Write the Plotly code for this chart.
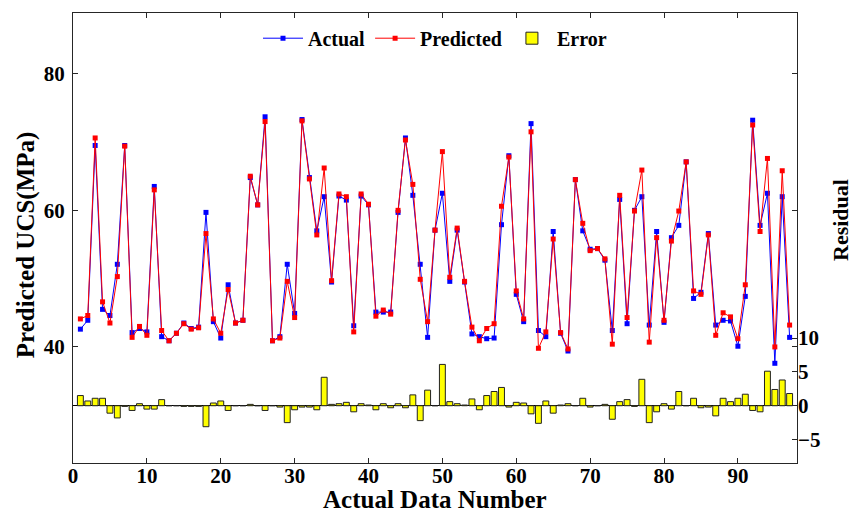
import plotly.graph_objects as go

sample_no = list(range(1, 98))

actual = [42.6, 43.9, 69.5, 45.5, 44.6, 52.1, 69.5, 42.1, 42.7, 42.2,
          63.5, 41.5, 40.9, 42.0, 43.5, 42.7, 42.9, 59.7, 43.7, 41.3,
          49.1, 43.5, 43.9, 64.8, 60.8, 73.7, 40.9, 41.5, 52.1, 44.9,
          73.3, 64.8, 57.0, 62.0, 49.5, 62.1, 61.5, 43.1, 62.1, 60.8,
          45.1, 45.1, 45.1, 59.7, 70.6, 62.2, 52.1, 41.4, 57.1, 62.5,
          49.6, 57.1, 49.5, 41.9, 41.5, 41.2, 41.3, 57.9, 68.0, 47.7,
          43.7, 72.7, 42.4, 41.5, 56.9, 42.0, 39.4, 64.5, 57.0, 54.3,
          54.4, 52.7, 42.4, 61.6, 43.4, 60.0, 62.0, 43.2, 56.9, 43.6,
          56.0, 57.8, 67.1, 47.1, 48.0, 56.6, 43.2, 43.9, 43.8, 40.1,
          47.4, 73.2, 57.8, 62.5, 37.6, 62.0, 41.4]

predicted = [44.1, 44.6, 70.6, 46.6, 43.5, 50.3, 69.4, 41.4, 43.0, 41.7,
             63.0, 42.4, 40.9, 42.0, 43.4, 42.6, 42.8, 56.6, 44.1, 42.0,
             48.4, 43.5, 43.9, 65.0, 60.8, 73.0, 40.9, 41.3, 49.6, 44.3,
             73.1, 64.6, 56.4, 66.2, 49.7, 62.4, 62.0, 42.2, 62.4, 60.9,
             44.5, 45.4, 44.8, 60.0, 70.3, 63.8, 49.9, 43.7, 57.1, 68.6,
             50.2, 57.4, 49.6, 42.9, 40.9, 42.7, 43.4, 60.6, 67.8, 48.2,
             44.1, 71.5, 39.8, 42.2, 55.8, 42.1, 39.7, 64.5, 58.1, 54.1,
             54.4, 52.9, 40.4, 62.2, 44.3, 59.9, 65.9, 40.7, 56.0, 43.9,
             55.5, 59.9, 67.1, 48.2, 47.7, 56.4, 41.7, 45.0, 44.4, 41.2,
             49.1, 72.5, 56.9, 67.6, 40.0, 65.8, 43.2]

error = [round(p - a, 2) for p, a in zip(predicted, actual)]

FONT = "Liberation Serif"
AXC = "#262626"

fig = go.Figure()
fig.add_trace(go.Scatter(
    x=sample_no, y=actual, mode="lines+markers", name="Actual",
    line=dict(color="#0000FF", width=1),
    marker=dict(symbol="square", size=5, color="#0000FF")))
fig.add_trace(go.Scatter(
    x=sample_no, y=predicted, mode="lines+markers", name="Predicted",
    line=dict(color="#FF0000", width=1),
    marker=dict(symbol="square", size=5, color="#FF0000")))
fig.add_trace(go.Bar(
    x=sample_no, y=error, name="Error", yaxis="y2", width=0.8,
    marker=dict(color="#FFFF00", line=dict(color="#222222", width=1))))

fig.update_layout(
    width=853, height=515,
    margin=dict(l=73, r=56, t=13, b=52),
    paper_bgcolor="white", plot_bgcolor="white",
    font=dict(family=FONT, color="black", size=20, weight="bold"),
    showlegend=True,
    legend=dict(orientation="h", x=0.5, xanchor="center", y=0.944, yanchor="middle",
                bgcolor="rgba(0,0,0,0)", itemwidth=40,
                font=dict(family=FONT, size=20, weight="bold")),
    xaxis=dict(range=[0, 98], tickvals=list(range(0, 100, 10)),
               ticks="inside", ticklen=5, tickcolor=AXC,
               showline=True, linecolor=AXC, linewidth=1, mirror="ticks",
               showgrid=False, zeroline=False, ticklabelstandoff=-6,
               tickfont=dict(family=FONT, size=21, weight="bold")),
    yaxis=dict(range=[23.0, 88.9], tickvals=[40, 60, 80],
               ticks="inside", ticklen=5, tickcolor=AXC,
               showline=True, linecolor=AXC, linewidth=1, mirror="ticks",
               showgrid=False, zeroline=False, ticklabelstandoff=3,
               tickfont=dict(family=FONT, size=21, weight="bold")),
    yaxis2=dict(range=[-8.46, 58.0], tickvals=[-5, 0, 5, 10], overlaying="y",
                side="right", ticks="inside", ticklen=5, tickcolor=AXC,
                showline=False, showgrid=False,
                zeroline=True, zerolinecolor="black", zerolinewidth=1,
                tickfont=dict(family=FONT, size=21, weight="bold")),
    annotations=[
        dict(text="Predicted UCS(MPa)", xref="paper", yref="paper", x=0, y=0.484,
             xanchor="center", yanchor="middle",
             xshift=-47, textangle=-90, showarrow=False,
             font=dict(family=FONT, size=25, weight="bold")),
        dict(text="Residual", xref="paper", yref="paper", x=1, y=0.54,
             xanchor="center", yanchor="middle",
             xshift=44, textangle=-90, showarrow=False,
             font=dict(family=FONT, size=22, weight="bold")),
        dict(text="Actual Data Number", xref="paper", yref="paper", x=0.5, y=-0.082,
             yanchor="middle", showarrow=False,
             font=dict(family=FONT, size=25, weight="bold")),
    ],
)

fig.write_html("out.html")
